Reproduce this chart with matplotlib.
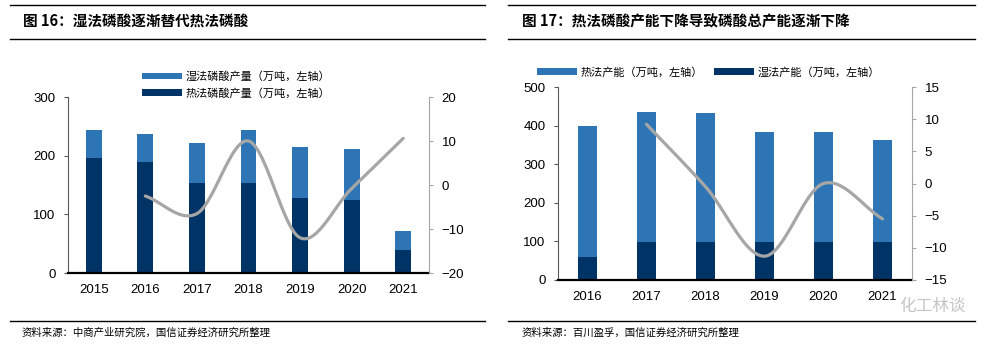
import matplotlib.pyplot as plt
from matplotlib.lines import Line2D
import numpy as np

plt.rcParams['font.family'] = ['Liberation Sans', 'Noto Sans CJK SC', 'DejaVu Sans']

# 图16
years1 = ['2015', '2016', '2017', '2018', '2019', '2020', '2021']
thermal_out = [196, 189, 153, 153, 128, 124, 40]     # 热法磷酸产量 (dark, bottom)
total_out = [244, 237, 222, 244, 215, 212, 71]
wet_out = [t - b for t, b in zip(total_out, thermal_out)]  # 湿法磷酸产量 (light, top)
yoy1 = [None, -2.5, -6.5, 10.0, -12.0, -0.8, 10.6]

# 图17
years2 = ['2016', '2017', '2018', '2019', '2020', '2021']
wet_cap = [60, 99, 99, 99, 99, 99]                    # 湿法产能 (dark, bottom)
total_cap = [398, 435, 432, 383, 383, 362]
thermal_cap = [t - b for t, b in zip(total_cap, wet_cap)]  # 热法产能 (light, top)
yoy2 = [None, 9.2, -0.5, -11.3, 0.0, -5.5]

LIGHT = '#2E75B6'
DARK = '#003366'
GREY = '#A6A6A6'
CJK = ['Noto Sans CJK SC', 'DejaVu Sans']


def smooth(xs, ys, n=30):
    # catmull-rom through the points, like Excel smoothed lines
    xs = np.asarray(xs, float)
    ys = np.asarray(ys, float)
    px = np.concatenate([[2 * xs[0] - xs[1]], xs, [2 * xs[-1] - xs[-2]]])
    py = np.concatenate([[2 * ys[0] - ys[1]], ys, [2 * ys[-1] - ys[-2]]])
    ox, oy = [], []
    for i in range(1, len(px) - 2):
        t = np.linspace(0, 1, n)
        for p, o in ((px, ox), (py, oy)):
            p0, p1, p2, p3 = p[i - 1], p[i], p[i + 1], p[i + 2]
            o.extend(0.5 * ((2 * p1) + (-p0 + p2) * t + (2 * p0 - 5 * p1 + 4 * p2 - p3) * t ** 2
                            + (-p0 + 3 * p1 - 3 * p2 + p3) * t ** 3))
    return ox, oy


def panel(rect, cats, bottom, top, yoy, ylim, yticks, y2lim, y2ticks):
    ax = fig.add_axes(rect)
    x = np.arange(len(cats))
    b1 = ax.bar(x, bottom, width=0.31, color=DARK, zorder=2)
    b2 = ax.bar(x, top, width=0.31, bottom=bottom, color=LIGHT, zorder=2)
    ax.set_xlim(-0.5, len(cats) - 0.5)
    ax.set_ylim(*ylim)
    ax.set_yticks(yticks)
    ax.set_xticks(x, cats)
    for s in ('top', 'right'):
        ax.spines[s].set_visible(False)
    ax.spines['left'].set_color('#595959')
    ax.spines['left'].set_linewidth(0.8)
    ax.spines['bottom'].set_color('black')
    ax.spines['bottom'].set_linewidth(1.6)
    ax.tick_params(axis='y', length=3, color='#595959', labelsize=9.5, pad=6)
    ax.tick_params(axis='x', length=0, labelsize=9.5, pad=8)

    ax2 = ax.twinx()
    xi = [i for i, v in enumerate(yoy) if v is not None]
    vi = [v for v in yoy if v is not None]
    sx, sy = smooth(xi, vi)
    ax2.plot(sx, sy, color=GREY, lw=2.3, solid_capstyle='round', zorder=3)
    ax2.set_ylim(*y2lim)
    ax2.set_yticks(y2ticks)
    for s in ('top', 'left', 'bottom'):
        ax2.spines[s].set_visible(False)
    ax2.spines['right'].set_color(GREY)
    ax2.spines['right'].set_linewidth(0.8)
    ax2.tick_params(axis='y', length=3, color=GREY, labelsize=9.5, pad=6)
    return ax, b1, b2


fig = plt.figure(figsize=(9.85, 3.46), dpi=100)
W, H = 985, 346


def frac(x0, y0, x1, y1):
    return [x0 / W, 1 - y1 / H, (x1 - x0) / W, (y1 - y0) / H]


ax_l, d1, l1 = panel(frac(68, 97, 429, 273), years1, thermal_out, wet_out, yoy1,
                     (0, 300), [0, 100, 200, 300], (-20, 20), [-20, -10, 0, 10, 20])
ax_r, d2, l2 = panel(frac(558, 87, 912, 280), years2, wet_cap, thermal_cap, yoy2,
                     (0, 500), [0, 100, 200, 300, 400, 500], (-15, 15), [-15, -10, -5, 0, 5, 10, 15])

leg_kw = dict(frameon=False, handlelength=3.6, handleheight=0.55, handletextpad=0.3,
              prop={'family': CJK, 'size': 8}, borderaxespad=0)
fig.legend([l1, d1], ['湿法磷酸产量（万吨，左轴）', '热法磷酸产量（万吨，左轴）'],
           loc='center left', bbox_to_anchor=(138 / W, 1 - 85 / H), ncol=1,
           labelspacing=0.55, **leg_kw)
fig.legend([l2, d2], ['热法产能（万吨，左轴）', '湿法产能（万吨，左轴）'],
           loc='center left', bbox_to_anchor=(533 / W, 1 - 72 / H), ncol=2,
           columnspacing=1.0, **leg_kw)

# title / footer rules
for x0, x1 in ((10, 485), (508, 975)):
    for yy in (4.5, 39, 321):
        fig.add_artist(Line2D([x0 / W, x1 / W], [1 - yy / H, 1 - yy / H],
                              color='black', lw=1.0))

fig.text(23 / W, 1 - 21 / H, '图 16：湿法磷酸逐渐替代热法磷酸', family=CJK,
         fontsize=10.5, fontweight='bold', va='center')
fig.text(522 / W, 1 - 21 / H, '图 17：热法磷酸产能下降导致磷酸总产能逐渐下降', family=CJK,
         fontsize=10.5, fontweight='bold', va='center')
fig.text(22 / W, 1 - 333 / H, '资料来源：中商产业研究院，国信证券经济研究所整理', family=CJK,
         fontsize=7.5, va='center')
fig.text(522 / W, 1 - 333 / H, '资料来源：百川盈孚，国信证券经济研究所整理', family=CJK,
         fontsize=7.5, va='center')

# watermark
fig.text(933 / W, 1 - 306 / H, '化工林谈', family=CJK, fontsize=12, color='#BFBFBF',
         ha='center', va='center', alpha=0.9)

fig.savefig('out.png', dpi=100)
